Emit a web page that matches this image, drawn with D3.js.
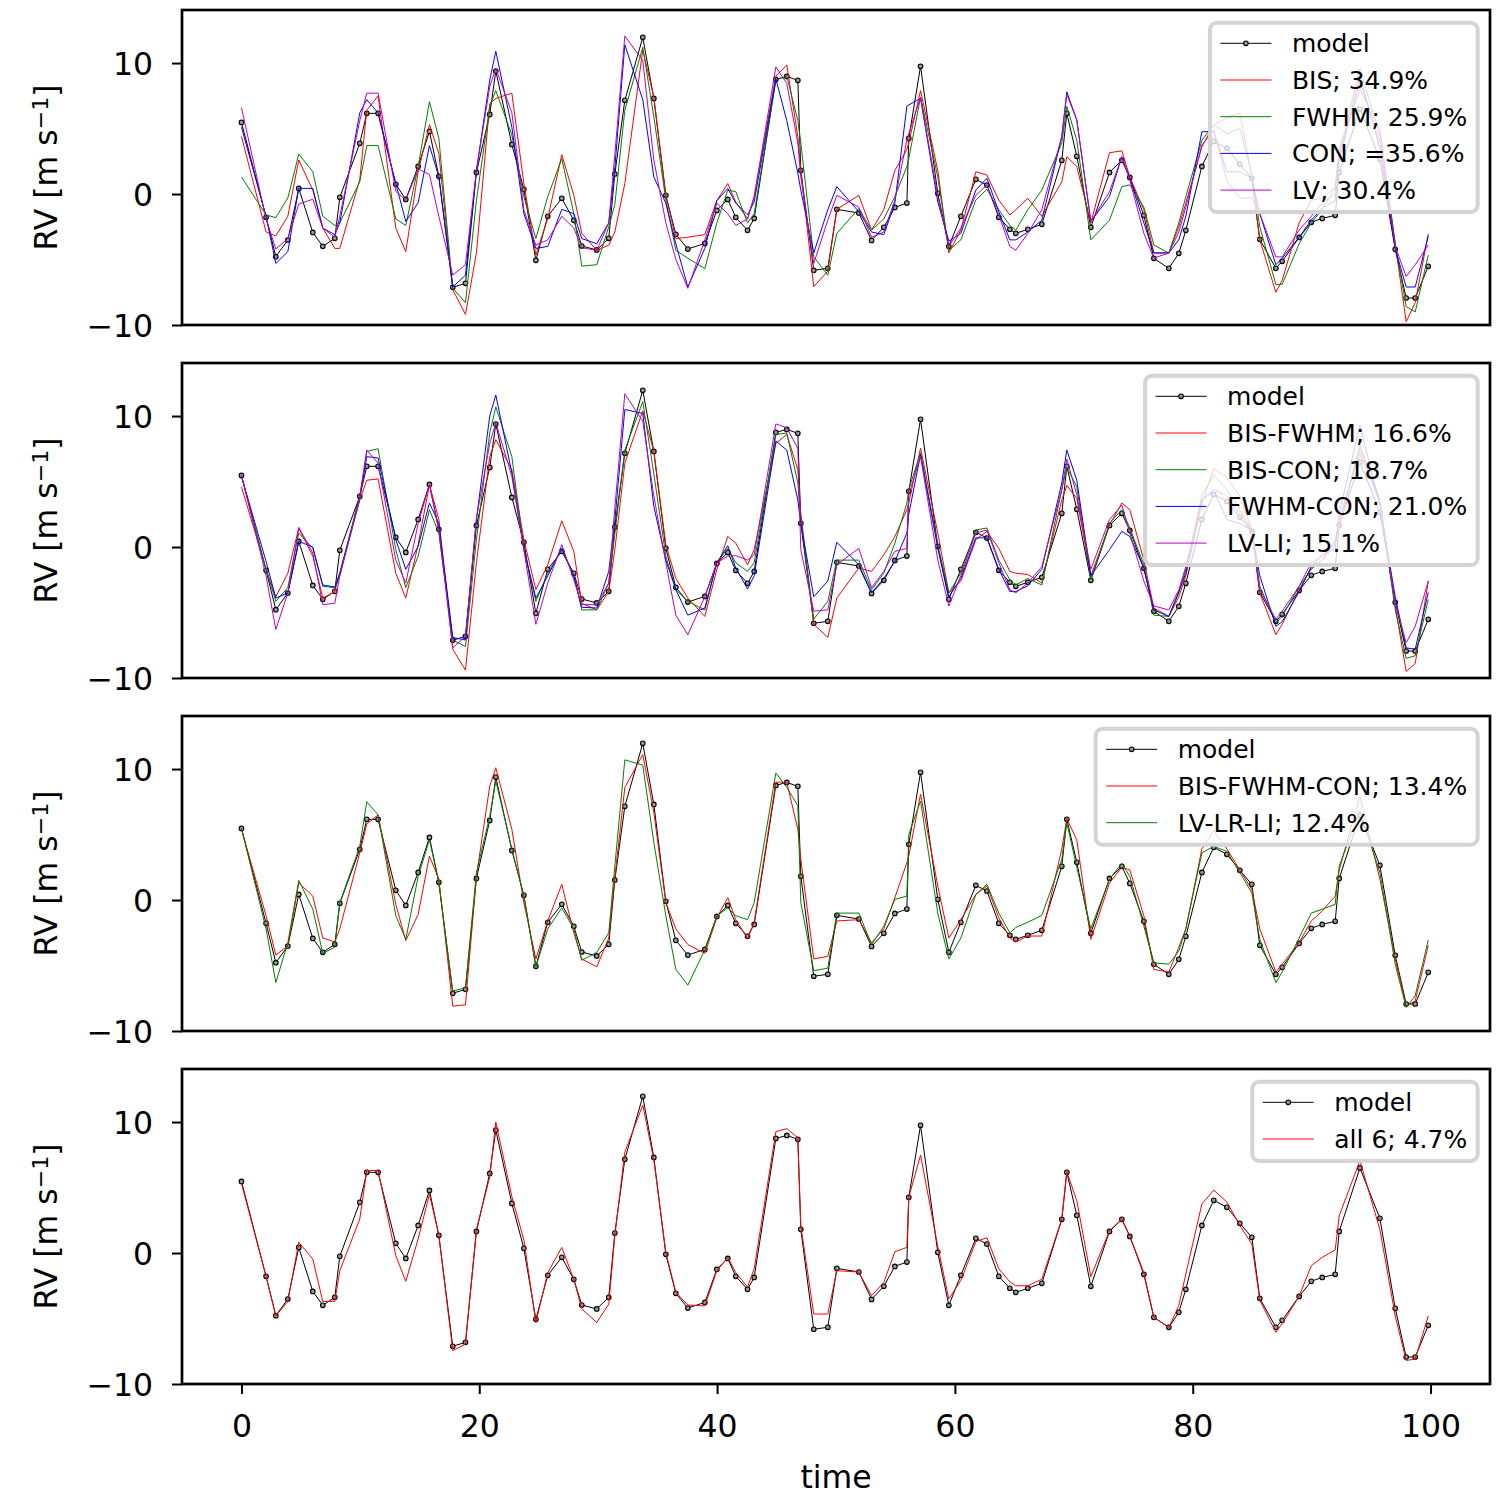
<!DOCTYPE html>
<html>
<head>
<meta charset="utf-8">
<script src="https://cdn.jsdelivr.net/npm/d3@7"></script>
<style>
  body { margin: 0; background: #fff; }
  text { font-family: "DejaVu Sans", sans-serif; fill: #000; }
</style>
</head>
<body>
<div id="graf"></div>
<script>
// RV: modelo y ajustes con indicadores
//

tiempo = [0.0, 2.07, 2.89, 3.9, 4.82, 6.0, 6.84, 7.85, 8.27, 9.95,
  10.54, 11.49, 12.98, 13.82, 14.86, 15.81, 16.6, 17.77, 18.84, 19.76,
  20.88, 21.39, 22.74, 23.75, 24.76, 25.76, 26.94, 27.95, 28.62, 29.88,
  30.89, 31.4, 32.24, 33.75, 34.68, 35.69, 36.53, 37.54, 38.97, 39.98,
  40.9, 41.57, 42.56, 43.12, 44.94, 45.86, 46.79, 47.04, 48.13, 49.31,
  50.07, 51.92, 52.99, 54.02, 54.95, 55.96, 56.12, 57.11, 58.56, 59.49,
  60.5, 61.76, 62.69, 63.69, 64.62, 65.12, 66.13, 67.31, 68.99, 69.41,
  70.25, 71.43, 73.0, 74.04, 74.71, 75.89, 76.73, 77.99, 78.83, 79.42,
  80.77, 81.77, 82.87, 83.96, 84.97, 85.64, 86.99, 87.52, 88.95, 89.97,
  90.89, 91.98, 92.32, 94.06, 95.74, 97.03, 97.95, 98.71, 99.81]

model = [5.47, -1.78, -4.78, -3.51, 0.43, -2.93, -3.99, -3.38, -0.25, 3.87,
  6.16, 6.16, 0.74, -0.41, 2.11, 4.78, 1.35, -7.12, -6.82, 1.65,
  6.08, 9.39, 3.79, 0.36, -5.06, -1.70, -0.33, -2.01, -3.97, -4.27,
  -3.38, 1.53, 7.15, 11.96, 7.30, -0.10, -3.08, -4.20, -3.77, -1.25,
  -0.41, -1.78, -2.77, -1.86, 8.75, 8.98, 8.68, 1.81, -5.82, -5.67,
  -1.17, -1.45, -3.54, -2.54, -1.02, -0.69, 4.25, 9.75, 0.05, -3.99,
  -1.70, 1.12, 0.69, -1.78, -2.69, -3.00, -2.69, -2.31, 2.57, 6.16,
  2.88, -2.54, 1.65, 2.57, 1.27, -1.63, -4.91, -5.67, -4.53, -2.77,
  2.11, 4.02, 3.49, 2.27, 1.20, -3.46, -5.67, -5.14, -3.31, -2.16,
  -1.86, -1.63, 1.65, 6.5, 2.65, -4.22, -7.94, -7.94, -5.52]

// panel 1: un indicador
bis = [4.4, -2.9, -3.2, -1.7, 2.6, 0.3, -2.6, -4.15, -4.15, 1.1,
  6.4, 7.5, -2.6, -4.4, 1.7, 5.3, 3.1, -7.3, -9.2, -4.5,
  6.9, 7.3, 7.7, 0.8, -4.66, -1.86, 3.0, -0.1, -3.0, -4.3,
  -3.9, -2.9, 0.8, 11.0, 7.4, -0.1, -3.4, -3.3, -3.1, -0.5,
  0.8, -0.6, -1.9, -0.2, 9.0, 9.85, 4.4, 1.8, -7.07, -5.9,
  -1.17, -0.1, -2.75, -1.2, 1.8, 3.4, 3.9, 7.9, 1.8, -4.5,
  -2.75, 1.7, 1.45, -0.46, -1.6, -1.2, -0.33, -1.7, 0.94, 2.85,
  2.1, -2.2, 3.15, 3.3, 1.3, -1.2, -4.5, -4.5, -2.5, -0.7,
  3.6, 5.3, 5.8, 6.2, 1.3, -3.5, -7.5, -6.6, -2.2, -0.46,
  -0.33, 0.5, 3.5, 8.0, 5.0, -3.8, -9.75, -8.3, -3.05]
fwhm = [1.3, -1.6, -1.8, -0.3, 3.05, 1.7, -1.7, -2.4, -2.2, 0.94,
  3.7, 3.7, -1.9, -2.4, 2.1, 7.05, 4.25, -7.2, -8.3, -0.5,
  6.7, 7.9, 4.5, -0.2, -3.4, -0.2, 2.7, -1.5, -5.5, -5.4,
  -2.5, -0.8, 6.4, 11.2, 5.9, -0.46, -4.3, -4.9, -5.7, -2.2,
  0.3, 0.18, -2.2, -1.5, 8.7, 9.0, 5.6, 3.9, -4.8, -6.2,
  -3.0, -1.1, -2.75, -1.9, -0.2, 2.1, 2.7, 7.4, 1.3, -4.3,
  -3.5, -0.46, 0.36, -1.2, -2.4, -2.75, -1.2, 0.3, 3.9, 6.7,
  4.1, -3.5, -2.0, 0.56, 0.7, -1.0, -3.9, -4.5, -2.2, -0.2,
  4.1, 5.3, 4.6, 5.0, 1.5, -2.5, -6.9, -6.9, -3.8, -2.2,
  -1.2, 0.5, 3.0, 9.6, 4.5, -3.8, -8.6, -9.0, -4.66]
con = [5.1, -1.7, -5.3, -4.4, 0.43, 0.43, -2.6, -3.1, -2.2, 6.2,
  7.2, 6.2, 0.8, -2.1, -0.66, 3.7, 1.3, -7.1, -6.2, 1.8,
  8.7, 10.9, 5.1, -1.5, -4.15, -4.0, -1.17, -1.5, -3.4, -3.8,
  -2.2, 2.0, 11.4, 7.2, 1.3, -0.7, -3.8, -7.1, -4.15, -0.5,
  0.43, -0.7, -1.6, -0.6, 8.8, 5.6, 1.6, 0.3, -4.5, -1.2,
  0.56, -1.35, -2.9, -3.1, -0.7, 6.7, 6.8, 7.3, -0.6, -3.6,
  -3.0, 0.3, 1.2, -1.35, -3.5, -3.5, -2.9, -2.0, 4.4, 7.8,
  5.65, -2.1, -0.2, 2.85, 1.2, -2.2, -4.5, -4.5, -3.5, -1.7,
  4.76, 4.76, 1.7, 1.7, 1.2, -1.5, -5.4, -4.9, -3.3, -2.0,
  -1.1, -0.5, 2.5, 9.0, 3.5, -4.15, -7.1, -7.1, -3.2]
lv = [6.6, -1.9, -4.2, -3.4, -0.76, -0.4, -2.6, -3.3, -1.7, 5.6,
  7.7, 7.7, 0.2, -0.46, 1.9, 1.5, -1.7, -6.2, -5.4, 1.8,
  8.2, 9.6, 6.2, -1.2, -3.9, -3.5, -1.7, -2.6, -4.1, -4.3,
  -2.2, 3.0, 12.06, 10.2, 2.6, -2.2, -5.0, -7.2, -3.5, -0.7,
  -1.5, -2.4, -1.9, -0.2, 9.7, 8.45, 3.9, 1.3, -5.3, -2.0,
  -0.1, -1.0, -3.3, -2.9, -0.46, 4.1, 4.6, 7.4, -0.2, -4.0,
  -2.6, -0.1, 0.7, -1.6, -4.0, -4.3, -3.0, -1.2, 4.4, 7.6,
  5.65, -2.1, 0.18, 2.85, 1.07, -3.0, -4.9, -4.5, -2.9, -1.0,
  3.74, 4.9, 1.0, -0.3, -0.3, -1.5, -4.8, -4.8, -2.75, -1.7,
  -0.7, 0.0, 3.0, 8.6, 4.0, -4.0, -6.3, -5.4, -3.9]

// panel 2: pares
bisFwhm = [4.6, -1.7, -3.8, -2.0, 1.45, -0.7, -3.9, -3.4, -2.0, 3.6,
  5.1, 5.2, -2.0, -3.9, 0.18, 4.76, 2.1, -7.8, -9.4, -1.2,
  6.9, 8.2, 5.9, 0.56, -3.26, -1.35, 2.0, -0.33, -4.3, -4.8,
  -3.4, -0.2, 6.4, 10.4, 7.3, 0.18, -2.4, -3.9, -5.3, -1.7,
  0.8, 0.3, -1.35, -0.2, 7.9, 8.6, 5.9, 2.6, -5.9, -6.9,
  -3.9, -1.6, -1.86, -0.6, 0.8, 2.85, 3.36, 7.55, 1.07, -3.5,
  -2.6, 0.56, 1.2, -0.1, -1.86, -2.0, -2.1, -2.75, 3.6, 4.7,
  3.7, -2.2, 1.7, 3.36, 2.85, -1.0, -4.66, -5.3, -3.8, -2.2,
  3.36, 6.0, 5.3, 3.9, 1.3, -3.5, -6.7, -5.9, -3.26, -1.6,
  -1.0, 0.2, 1.6, 7.55, 3.4, -4.5, -9.5, -8.9, -2.6]
bisCon = [5.4, -1.7, -4.15, -3.1, 1.07, -0.1, -3.0, -3.1, -2.2, 3.6,
  7.3, 7.5, -0.2, -3.1, -0.7, 2.85, 1.07, -7.1, -7.6, 0.56,
  8.7, 10.7, 6.9, -0.1, -4.15, -2.0, -0.2, -2.2, -4.8, -4.8,
  -2.75, 1.0, 7.4, 11.1, 5.6, -0.7, -3.26, -4.15, -4.8, -1.2,
  -0.1, -1.2, -1.86, -1.2, 8.6, 8.7, 4.9, 2.1, -5.5, -4.15,
  -1.0, -1.0, -3.26, -2.0, 0.3, 3.36, 4.4, 7.2, 0.18, -3.5,
  -2.0, 1.3, 1.45, -1.0, -2.5, -2.9, -2.4, -2.9, 4.4, 6.1,
  4.6, -2.5, 1.8, 2.85, 1.45, -1.35, -5.2, -5.3, -3.5, -1.7,
  4.0, 5.5, 4.4, 2.85, 1.3, -3.0, -5.8, -5.3, -3.0, -1.7,
  -1.0, 0.56, 1.8, 7.8, 3.6, -4.8, -8.5, -8.3, -4.0]
fwhmCon = [5.4, -1.1, -3.9, -3.5, 0.43, 0.0, -2.9, -3.05, -2.0, 3.9,
  6.9, 6.8, 0.56, -1.7, 0.05, 3.36, 1.8, -6.9, -7.1, 2.1,
  10.0, 11.6, 5.65, -0.2, -3.9, -2.2, -0.1, -2.2, -4.6, -4.66,
  -1.86, 2.0, 10.5, 10.2, 3.1, -1.0, -3.26, -5.2, -4.66, -1.2,
  0.1, -1.6, -3.2, -2.2, 8.1, 7.4, 3.6, 1.8, -3.8, -2.6,
  0.36, -1.35, -3.5, -2.4, -1.1, 1.07, 2.5, 7.05, -0.1, -3.8,
  -2.4, 0.7, 0.7, -1.7, -3.4, -3.4, -2.95, -1.7, 4.9, 7.4,
  5.1, -2.2, -0.2, 1.2, 0.8, -1.6, -4.8, -5.3, -3.4, -2.0,
  3.6, 4.25, 2.1, 1.8, 1.3, -2.2, -6.05, -5.7, -3.4, -1.5,
  -0.6, -0.1, 2.6, 9.3, 3.2, -3.8, -7.7, -7.8, -3.46]
lvLi = [5.5, -2.2, -6.3, -3.5, 1.5, -0.46, -4.4, -4.3, -2.2, 3.9,
  7.4, 6.4, -1.0, -2.75, 1.8, 4.76, 1.3, -7.7, -6.8, 2.2,
  7.9, 9.5, 5.4, -0.2, -5.9, -2.75, 0.18, -2.5, -4.4, -4.4,
  -2.75, 3.0, 11.7, 9.6, 3.9, -1.2, -5.2, -6.7, -3.8, -1.2,
  -0.7, -0.66, -1.0, -0.6, 9.4, 9.1, 7.55, -0.2, -4.9, -4.8,
  -1.35, -0.1, -3.1, -1.86, -0.33, -0.1, 4.0, 6.9, -1.0, -4.5,
  -2.2, 1.07, 1.3, -1.2, -3.26, -3.5, -2.75, -1.5, 4.4, 6.7,
  4.0, -1.7, 2.1, 3.2, 1.07, -2.6, -4.5, -4.8, -3.26, -1.5,
  3.6, 4.4, 3.9, 2.5, 1.3, -3.26, -5.5, -4.9, -3.0, -1.2,
  -0.7, 0.3, 2.1, 7.2, 3.4, -4.3, -7.3, -6.05, -2.6]

// panel 3: tríos
bisFwhmCon = [5.4, -1.2, -4.2, -3.5, 1.3, 0.3, -2.9, -3.2, -2.2, 3.6,
  5.8, 6.5, -0.33, -3.1, -1.1, 3.36, 1.6, -8.1, -8.0, 1.8,
  8.7, 10.1, 5.4, -0.2, -4.5, -1.6, 1.2, -2.5, -4.5, -5.1,
  -2.9, 1.7, 8.6, 11.1, 6.7, -0.2, -2.2, -3.4, -4.07, -1.35,
  0.18, -1.5, -2.95, -1.7, 9.0, 9.0, 5.4, 3.1, -4.5, -4.3,
  -1.6, -1.5, -3.26, -2.2, 0.18, 2.85, 3.36, 8.07, 1.07, -2.9,
  -1.5, 0.43, 1.07, -1.35, -2.9, -3.2, -2.75, -2.75, 3.9, 6.2,
  4.6, -3.0, 1.3, 2.5, 2.3, -1.2, -5.3, -5.5, -3.6, -2.2,
  3.9, 5.3, 3.9, 2.3, 0.8, -2.2, -5.5, -4.9, -3.26, -1.6,
  -0.84, 0.3, 2.3, 7.9, 1.6, -4.5, -8.1, -7.7, -3.46]
lvLrLi = [5.47, -2.2, -6.3, -3.26, 1.5, -0.7, -4.07, -3.6, -0.2, 4.1,
  7.5, 6.5, -1.2, -3.0, 1.8, 4.6, 1.3, -6.95, -6.7, 2.1,
  6.4, 9.1, 3.9, 0.3, -5.1, -2.2, -0.6, -2.2, -4.6, -4.0,
  -2.5, 2.6, 10.7, 10.3, 4.4, -1.2, -5.3, -6.5, -3.8, -1.2,
  -0.6, -1.2, -1.5, -0.2, 9.7, 8.6, 7.2, -0.2, -5.4, -5.2,
  -1.0, -1.0, -3.4, -2.0, 0.05, 0.3, 5.0, 7.56, -1.0, -4.5,
  -2.9, 0.43, 1.2, -1.0, -2.5, -2.1, -1.7, -1.17, 3.1, 5.9,
  2.5, -2.2, 1.6, 2.8, 1.8, -2.0, -4.8, -4.9, -3.9, -2.2,
  3.6, 4.1, 3.7, 2.1, 0.56, -3.0, -6.3, -5.5, -2.9, -1.0,
  -0.7, -0.33, 2.6, 6.8, 2.1, -4.9, -8.2, -7.3, -3.05]

// panel 4: los seis
all6 = [5.3, -1.8, -4.8, -3.7, 0.82, -0.46, -3.7, -3.69, -1.35, 2.6,
  6.3, 6.3, -0.2, -2.16, 1.07, 4.5, 1.35, -7.45, -6.95, 1.8,
  5.8, 10.0, 4.3, 1.0, -5.3, -1.5, 0.43, -2.0, -4.27, -5.3,
  -3.9, 1.3, 7.7, 11.3, 7.1, 0.05, -3.0, -3.97, -4.04, -1.35,
  -0.33, -1.5, -2.6, -1.2, 9.26, 9.5, 8.8, 2.1, -4.66, -4.66,
  -1.35, -1.45, -3.26, -2.24, 0.1, 0.43, 4.25, 7.48, 0.5, -3.5,
  -2.1, 0.87, 1.17, -1.2, -2.2, -2.5, -2.5, -2.0, 2.6, 6.2,
  4.0, -1.8, 1.7, 2.6, 1.3, -1.5, -4.9, -5.7, -4.0, -1.6,
  3.74, 4.8, 3.9, 2.1, 0.7, -3.6, -6.05, -5.4, -3.3, -0.97,
  -0.33, 0.23, 2.85, 7.05, 1.8, -4.8, -8.2, -8.1, -4.8]

etiquetas1 = ['BIS; 34.9%', 'FWHM; 25.9%', 'CON; =35.6%', 'LV; 30.4%']
etiquetas2 = ['BIS-FWHM; 16.6%', 'BIS-CON; 18.7%', 'FWHM-CON; 21.0%', 'LV-LI; 15.1%']
etiquetas3 = ['BIS-FWHM-CON; 13.4%', 'LV-LR-LI; 12.4%']
etiquetas4 = ['all 6; 4.7%']
xTicks = [0, 20, 40, 60, 80, 100]
yTicks = [-10, 0, 10]

paneles = [
  { series: [bis, fwhm, con, lv], nombres: etiquetas1, colores: ['#ff0000', '#008000', '#0000ff', '#bf00bf'] },
  { series: [bisFwhm, bisCon, fwhmCon, lvLi], nombres: etiquetas2, colores: ['#ff0000', '#008000', '#0000ff', '#bf00bf'] },
  { series: [bisFwhmCon, lvLrLi], nombres: etiquetas3, colores: ['#ff0000', '#008000'] },
  { series: [all6], nombres: etiquetas4, colores: ['#ff0000'] }
]

margins = { top: 10, left: 182, right: 10 }
ancho = 1500 - margins.left - margins.right
alto = 315
paso = 353
fs = 31.5

svg = d3.select('#graf').append('svg')
        .attr('width', 1500)
        .attr('height', 1500)

// Escaladores
x = d3.scaleLinear().domain([-5, 105]).range([0, ancho])
y = d3.scaleLinear().domain([-10, 14.05]).range([alto, 0])

lineaGen = d3.line()
              .x((d, i) => x(tiempo[i]))
              .y(d => y(d))

paneles.forEach((p, k) => {
  g = svg.append('g')
         .attr('transform', `translate(${margins.left}, ${margins.top + k * paso})`)

  // modelo
  g.append('path')
    .attr('d', lineaGen(model))
    .attr('fill', 'none')
    .attr('stroke', '#000')
    .attr('stroke-width', 1)
  g.selectAll('.pt').data(model).join('circle')
    .attr('cx', (d, i) => x(tiempo[i]))
    .attr('cy', d => y(d))
    .attr('r', 2.3)
    .attr('fill', '#999')
    .attr('stroke', '#000')
    .attr('stroke-width', 1.1)

  // ajustes
  p.series.forEach((s, j) => {
    g.append('path')
      .attr('d', lineaGen(s))
      .attr('fill', 'none')
      .attr('stroke', p.colores[j])
      .attr('stroke-width', 1)
  })

  // Ejes
  yAxis = g.append('g')
    .call(d3.axisLeft(y).tickValues(yTicks).tickSize(10).tickPadding(19))
  yAxis.select('.domain').remove()
  yAxis.selectAll('line').attr('stroke-width', 2)
  yAxis.selectAll('text').style('font-size', fs + 'px').attr('dy', '0.35em')

  if (k == paneles.length - 1) {
    xAxis = g.append('g')
      .attr('transform', `translate(0, ${alto})`)
      .call(d3.axisBottom(x).tickValues(xTicks).tickSize(10).tickPadding(21))
    xAxis.select('.domain').remove()
    xAxis.selectAll('line').attr('stroke-width', 2)
    xAxis.selectAll('text').style('font-size', fs + 'px')
  }

  g.append('rect')
    .attr('width', ancho)
    .attr('height', alto)
    .attr('fill', 'none')
    .attr('stroke', '#000')
    .attr('stroke-width', 2.7)

  // etiqueta del eje y
  lab = g.append('text')
    .attr('transform', `translate(${46 - margins.left}, ${alto / 2}) rotate(-90)`)
    .attr('text-anchor', 'middle')
    .attr('dy', '0.35em')
    .style('font-size', fs + 'px')
  lab.append('tspan').text('RV [m s')
  lab.append('tspan').text('−1').attr('baseline-shift', '42%').style('font-size', (fs * 0.7) + 'px')
  lab.append('tspan').text(']')

  leyenda(g, p)
})

svg.append('text')
  .attr('x', margins.left + ancho / 2)
  .attr('y', 1488)
  .attr('text-anchor', 'middle')
  .style('font-size', fs + 'px')
  .text('time')

function leyenda(g, p) {
  nombres = ['model'].concat(p.nombres)
  colores = ['#000'].concat(p.colores)
  lg = g.append('g')
  caja = lg.append('rect')
  textos = nombres.map((n, i) => lg.append('text')
    .attr('dy', '0.36em')
    .style('font-size', '25px')
    .text(n))
  maxW = d3.max(textos, t => t.node().getComputedTextLength())
  w = 10.5 + 51 + 20.5 + maxW + 10.5
  h = 20.6 + (nombres.length - 1) * 36.7 + 22
  x0 = ancho - 12.3 - w
  caja.attr('x', x0).attr('y', 12.7)
      .attr('width', w).attr('height', h)
      .attr('rx', 7)
      .attr('fill', '#fff').attr('fill-opacity', 0.8)
      .attr('stroke', '#d4d4d4').attr('stroke-width', 4)
  textos.forEach((t, i) => {
    fila = 12.7 + 20.6 + i * 36.7
    t.attr('x', x0 + 10.5 + 51 + 20.5).attr('y', fila)
    lg.append('line')
      .attr('x1', x0 + 10.5).attr('x2', x0 + 61.5)
      .attr('y1', fila).attr('y2', fila)
      .attr('stroke', colores[i]).attr('stroke-width', 1)
  })
  lg.append('circle')
    .attr('cx', x0 + 36).attr('cy', 12.7 + 20.6)
    .attr('r', 2.3).attr('fill', '#999')
    .attr('stroke', '#000').attr('stroke-width', 1.1)
}
</script>
</body>
</html>
